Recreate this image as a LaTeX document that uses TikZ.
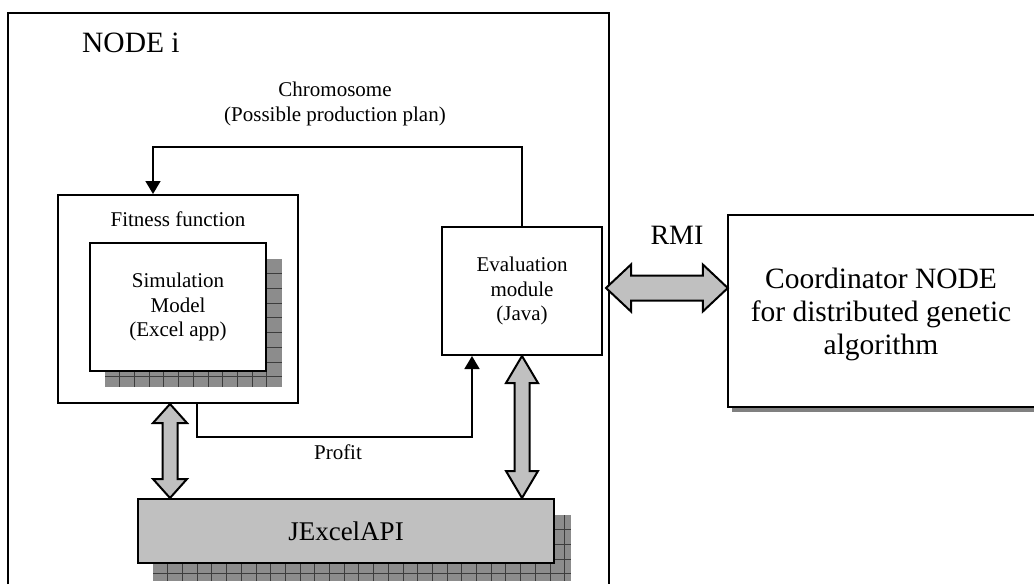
\documentclass[tikz,border=0pt]{standalone}
\usepackage{fontspec}
\setmainfont{Liberation Serif}
\usetikzlibrary{arrows.meta,calc}

\definecolor{boxgray}{RGB}{192,192,192}
\definecolor{shadowgray}{RGB}{140,140,140}
\definecolor{gridgray}{RGB}{60,60,60}
\definecolor{thinshadow}{RGB}{128,128,128}

\newcommand{\vdblarrow}[5]{%
  \draw[blockarrow] let \p1=#1, \p2=#2 in
    (\x1,\y1) -- (\x1+#4,\y1-#3) -- (\x1+#5,\y1-#3) -- (\x1+#5,\y2+#3) -- (\x1+#4,\y2+#3) -- (\x1,\y2)
    -- (\x1-#4,\y2+#3) -- (\x1-#5,\y2+#3) -- (\x1-#5,\y1-#3) -- (\x1-#4,\y1-#3) -- cycle;}
\newcommand{\hdblarrow}[5]{%
  \draw[blockarrow] let \p1=#1, \p2=#2 in
    (\x1,\y1) -- (\x1+#3,\y1+#4) -- (\x1+#3,\y1+#5) -- (\x2-#3,\y1+#5) -- (\x2-#3,\y1+#4) -- (\x2,\y1)
    -- (\x2-#3,\y1-#4) -- (\x2-#3,\y1-#5) -- (\x1+#3,\y1-#5) -- (\x1+#3,\y1-#4) -- cycle;}

\begin{document}
\begin{tikzpicture}[x=1pt,y=-1pt,
  box/.style={draw=black,line width=2pt,fill=white,inner sep=0pt},
  conn/.style={line width=1.6pt,-{Triangle[length=13pt,width=15pt]}},
  blockarrow/.style={draw=black,line width=2pt,fill=boxgray,line join=miter},
  small/.style={font=\fontsize{21}{24.2}\selectfont,inner sep=0pt,align=center},
  big/.style={font=\fontsize{29.5}{33}\selectfont,inner sep=0pt,align=center},
  gridline/.style={gridgray,line width=0.8pt},
]
\useasboundingbox (0,0) rectangle (1034,584);

% outer frame of NODE i
\draw[line width=2pt] (8,584) -- (8,13) -- (609,13) -- (609,584);
\node[big,anchor=base west] (nodei) at (82,52) {NODE i};

\node[small,anchor=base] (chrom) at (335,121) {Chromosome\\(Possible production plan)};

% fitness function box
\node[box,minimum width=240pt,minimum height=208pt] (fit) at (178,299) {};
\node[small,anchor=base] (fitlabel) at (178,226) {Fitness function};

% shadow of simulation model
\fill[shadowgray] (105,259) rectangle (282,387);
\foreach \i in {1,...,11} \draw[gridline] (105+\i*14.7,259) -- (105+\i*14.7,387);
\foreach \j in {1,...,8} \draw[gridline] (105,259+\j*14.7) -- (282,259+\j*14.7);
\node[box,small,minimum width=176pt,minimum height=128pt] (sim) at (178,307) {Simulation\\Model\\(Excel app)};

% evaluation module
\node[box,small,minimum width=160pt,minimum height=128pt] (eval) at (522,291) {Evaluation\\module\\(Java)};

% shadow of JExcelAPI
\fill[shadowgray] (153,515) rectangle (571,581);
\foreach \i in {1,...,28} \draw[gridline] (153+\i*14.7,515) -- (153+\i*14.7,581);
\foreach \j in {1,...,4} \draw[gridline] (153,515+\j*14.7) -- (571,515+\j*14.7);
\node[box,fill=boxgray,font=\fontsize{27}{31}\selectfont,minimum width=416pt,minimum height=64pt] (jx) at (346,531) {JExcelAPI};

% coordinator
\fill[thinshadow] (732,219) rectangle (1034,412);
\node[big,fill=white,minimum width=306pt,minimum height=192pt] (coord) at (881,311) {\rule{0pt}{28pt}Coordinator NODE\\for distributed genetic\\algorithm};
\draw[line width=2pt] (coord.north east) -- (coord.north west) -- (coord.south west) -- (coord.south east);

\node[font=\fontsize{28}{32}\selectfont,inner sep=0pt,anchor=base] (rmi) at (677,244) {RMI};

% connectors
\draw[conn] (eval.north) -- ++(0,-79) -| ([xshift=-25pt]fit.north);
\draw[conn] ([xshift=19pt]fit.south) -- ++(0,33) -| ([xshift=-50pt]eval.south);
\node[small,anchor=base] (profit) at (338,459) {Profit};

\vdblarrow{($(fit.south)+(-8,0)$)}{(jx.north)}{19pt}{17pt}{7.5pt}
\vdblarrow{(eval.south)}{(jx.north)}{27pt}{16pt}{7.5pt}
\coordinate (rmiL) at (606,288);
\hdblarrow{(rmiL)}{(coord.west)}{25pt}{23.5pt}{12.5pt}
\end{tikzpicture}
\end{document}
